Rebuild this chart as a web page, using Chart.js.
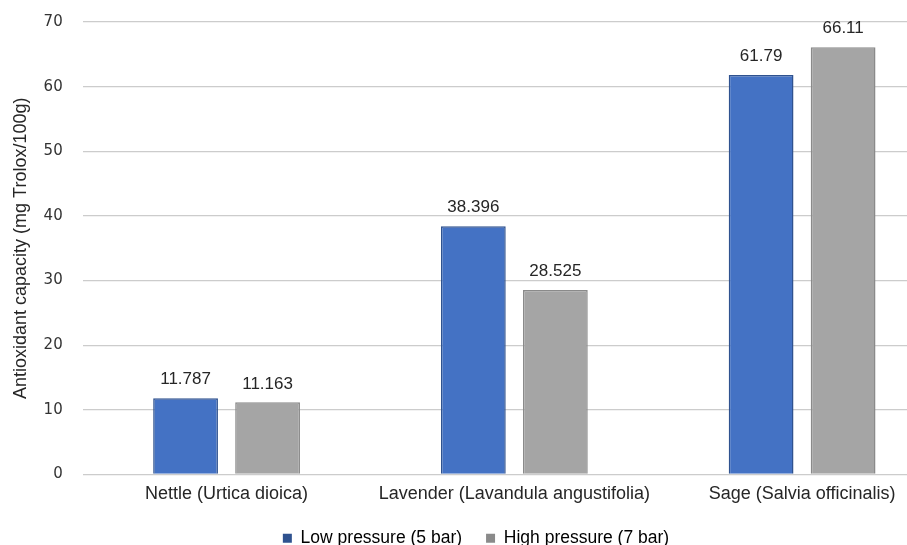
<!DOCTYPE html>
<html>
<head>
<meta charset="utf-8">
<script src="https://cdn.jsdelivr.net/npm/chart.js@4/dist/chart.umd.min.js"></script>
<style>
  html, body { margin: 0; padding: 0; background: #fff; overflow: hidden; }
  #wrap { position: absolute; left: 0; top: -7px; width: 952px; height: 564px; }
</style>
</head>
<body>
<div id="wrap"><canvas id="chart"></canvas></div>
<script>
const categories = ["Nettle (Urtica dioica)", "Lavender (Lavandula angustifolia)", "Sage (Salvia officinalis)"]
const lowPressure = [11.787, 38.396, 61.79]
const highPressure = [11.163, 28.525, 66.11]
const valueLabels = [["11.787", "38.396", "61.79"], ["11.163", "28.525", "66.11"]]

const sans = "'Liberation Sans', Arial, sans-serif"

// draws the value text above each bar
const barLabels = {
  id: "barLabels",
  afterDatasetsDraw(chart) {
    const ctx = chart.ctx
    ctx.save()
    ctx.font = "17px " + sans
    ctx.fillStyle = "#262626"
    ctx.textAlign = "center"
    ctx.textBaseline = "bottom"
    chart.data.datasets.forEach((ds, i) => {
      chart.getDatasetMeta(i).data.forEach((bar, j) => {
        ctx.fillText(valueLabels[i][j], bar.x, bar.y - 10)
      })
    })
    ctx.restore()
  }
}

const ctx = document.getElementById("chart").getContext("2d")
new Chart(ctx, {
  type: "bar",
  data: {
    labels: categories,
    datasets: [
      {
        label: "Low pressure (5 bar)",
        data: lowPressure,
        backgroundColor: "#4472C4",
        borderColor: "#2F528F",
        borderWidth: 1.5,
        categoryPercentage: 0.57,
        barPercentage: 0.79
      },
      {
        label: "High pressure (7 bar)",
        data: highPressure,
        backgroundColor: "#A5A5A5",
        borderColor: "#8A8A8A",
        borderWidth: 1.5,
        categoryPercentage: 0.57,
        barPercentage: 0.79
      }
    ]
  },
  options: {
    responsive: true,
    maintainAspectRatio: false,
    animation: false,
    layout: { padding: { top: 0, right: 6, left: 6, bottom: 0 } },
    plugins: {
      tooltip: { enabled: false },
      legend: {
        position: "bottom",
        labels: {
          boxWidth: 9,
          boxHeight: 9,
          padding: 24,
          color: "#262626",
          font: { family: sans, size: 17.5 },
          generateLabels(chart) {
            return chart.data.datasets.map((ds, i) => ({
              text: ds.label,
              fillStyle: ds.borderColor,
              strokeStyle: ds.borderColor,
              lineWidth: 0,
              datasetIndex: i
            }))
          }
        }
      }
    },
    scales: {
      x: {
        grid: { display: false, drawTicks: false },
        border: { display: false },
        afterFit(scale) { scale.height = 31 },
        ticks: {
          color: "#262626",
          padding: 11,
          font: { family: sans, size: 18, lineHeight: 1 }
        }
      },
      y: {
        min: 0,
        max: 70,
        ticks: {
          stepSize: 10,
          padding: 20,
          color: "#333",
          font: { family: "'DejaVu Sans', sans-serif", size: 15 }
        },
        grid: { color: "#cccccc", lineWidth: 1.3, drawTicks: false },
        border: { display: false },
        title: {
          display: true,
          text: "Antioxidant capacity (mg Trolox/100g)",
          color: "#262626",
          padding: { top: 4, bottom: -8 },
          font: { family: sans, size: 18 }
        }
      }
    }
  },
  plugins: [barLabels]
})
</script>
</body>
</html>
